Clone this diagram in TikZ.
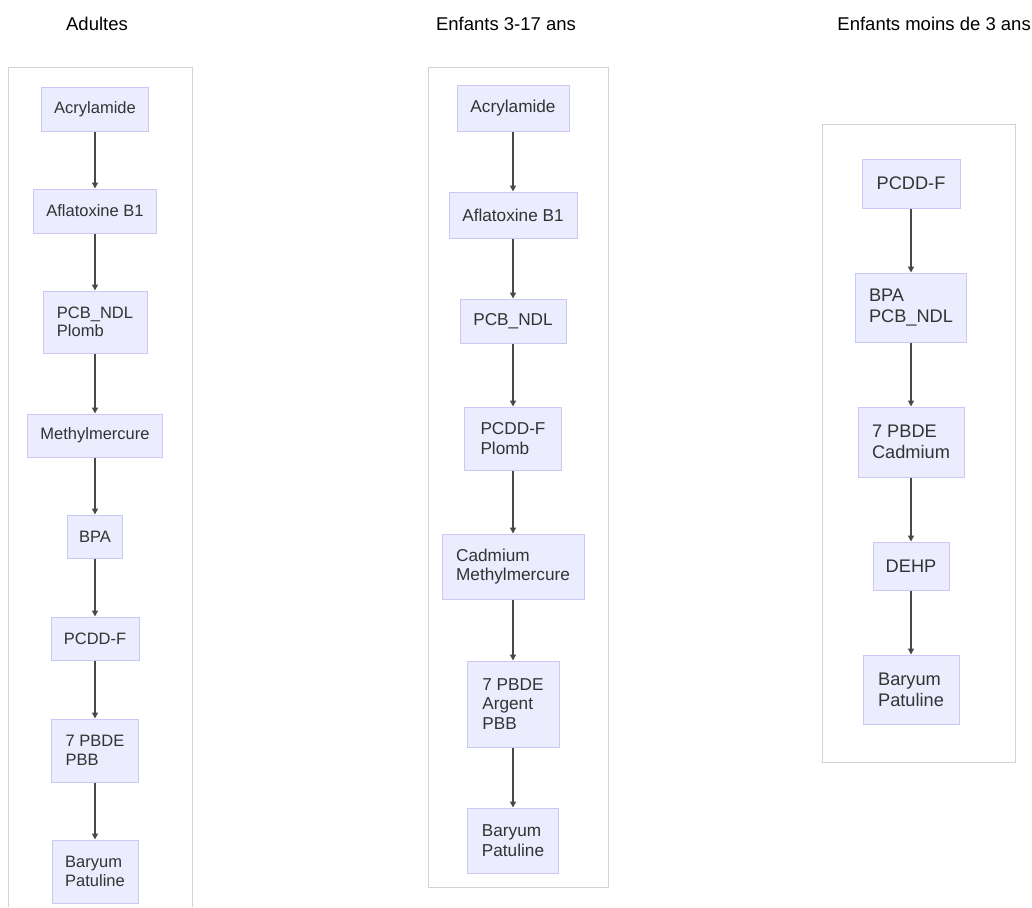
\documentclass[tikz,border=0pt]{standalone}
\usepackage{fontspec}
\setmainfont{Liberation Sans}
\usetikzlibrary{arrows.meta}
\definecolor{nodefill}{HTML}{ECECFF}
\definecolor{nodeline}{HTML}{CCC8F6}
\definecolor{panelline}{HTML}{D2D2D2}
\definecolor{linkcol}{HTML}{484848}
\definecolor{txt}{HTML}{333333}

\begin{document}
\begin{tikzpicture}[x=1pt,y=-1pt,
  chem/.style={draw=nodeline, line width=1pt, fill=nodefill, text=txt,
    align=left, inner sep=0pt},
  link/.style={draw=linkcol, line width=1.4pt,
    -{Triangle[length=6pt,width=6pt]}},
  panel/.style={draw=panelline, line width=1pt},
  heading/.style={font=\fontsize{18.5}{21}\selectfont, text=black, inner sep=0pt}
]
\useasboundingbox (0,0) rectangle (1032,907);

% column headings
\node[heading] (h1) at (97,24) {Adultes};
\node[heading] (h2) at (506,24) {Enfants 3-17 ans};
\node[heading, anchor=east] (h3) at (1031,24) {Enfants moins de 3 ans};

% panel frames
\draw[panel] (8,907) -- (8,67) -- (192,67) -- (192,907);
\draw[panel] (428,67) rectangle (608,887);
\draw[panel] (822,124) rectangle (1015,762);

% adults
\begin{scope}[every node/.append style={font=\fontsize{16.5}{18.6}\selectfont}]
\node[chem, minimum width=107pt, minimum height=44pt] (a1) at (95,109) {Acrylamide};
\node[chem, minimum width=123pt, minimum height=44pt] (a2) at (95,211) {Aflatoxine B1};
\node[chem, minimum width=104pt, minimum height=62pt] (a3) at (95,322) {PCB\_NDL\\Plomb};
\node[chem, minimum width=135pt, minimum height=43pt] (a4) at (95,435.5) {Methylmercure};
\node[chem, minimum width=55pt, minimum height=43pt] (a5) at (95,536.5) {BPA};
\node[chem, minimum width=88pt, minimum height=43pt] (a6) at (95,638.5) {PCDD-F};
\node[chem, minimum width=87pt, minimum height=63pt] (a7) at (95,750.5) {7 PBDE\\PBB};
\node[chem, minimum width=86pt, minimum height=63pt] (a8) at (95,871.5) {Baryum\\Patuline};
\end{scope}
\foreach \u/\v in {a1/a2,a2/a3,a3/a4,a4/a5,a5/a6,a6/a7,a7/a8}
  \draw[link] (\u.south) -- (\v.north);

% children 3-17
\begin{scope}[every node/.append style={font=\fontsize{17.2}{19.6}\selectfont}]
\node[chem, minimum width=112pt, minimum height=46pt] (b1) at (513,108) {Acrylamide};
\node[chem, minimum width=128pt, minimum height=46pt] (b2) at (513,215) {Aflatoxine B1};
\node[chem, minimum width=106pt, minimum height=44pt] (b3) at (513,321) {PCB\_NDL};
\node[chem, minimum width=97pt, minimum height=63pt] (b4) at (513,438.5) {PCDD-F\\Plomb};
\node[chem, minimum width=142pt, minimum height=65pt] (b5) at (513,566.5) {Cadmium\\Methylmercure};
\node[chem, minimum width=92pt, minimum height=86pt] (b6) at (513,704) {7 PBDE\\Argent\\PBB};
\node[chem, minimum width=91pt, minimum height=65pt] (b7) at (513,840.5) {Baryum\\Patuline};
\end{scope}
\foreach \u/\v in {b1/b2,b2/b3,b3/b4,b4/b5,b5/b6,b6/b7}
  \draw[link] (\u.south) -- (\v.north);

% children under 3
\begin{scope}[every node/.append style={font=\fontsize{18.2}{20.8}\selectfont}]
\node[chem, minimum width=98pt, minimum height=49pt] (c1) at (911,183.5) {PCDD-F};
\node[chem, minimum width=111pt, minimum height=69pt] (c2) at (911,307.5) {BPA\\PCB\_NDL};
\node[chem, minimum width=106pt, minimum height=70pt] (c3) at (911,442) {7 PBDE\\Cadmium};
\node[chem, minimum width=76pt, minimum height=48pt] (c4) at (911,566) {DEHP};
\node[chem, minimum width=96pt, minimum height=69pt] (c5) at (911,689.5) {Baryum\\Patuline};
\end{scope}
\foreach \u/\v in {c1/c2,c2/c3,c3/c4,c4/c5}
  \draw[link] (\u.south) -- (\v.north);
\end{tikzpicture}
\end{document}
